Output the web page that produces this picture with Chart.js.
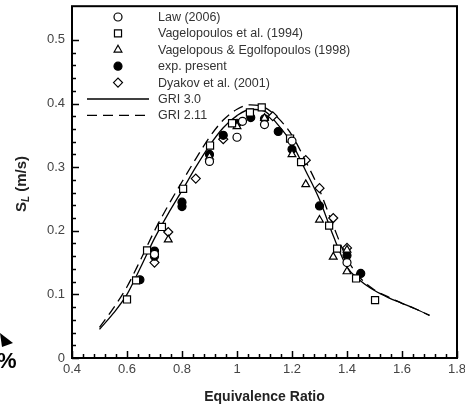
<!DOCTYPE html>
<html>
<head>
<meta charset="utf-8">
<script src="https://cdn.jsdelivr.net/npm/chart.js@4.4.0/dist/chart.umd.min.js"></script>
<style>
  html, body { margin: 0; padding: 0; background: #fff; }
  #wrap { width: 465px; height: 414px; }
</style>
</head>
<body>
<div id="wrap"><canvas id="grafico" width="465" height="414"></canvas></div>
<script>
// tick labels
const xTicks = [0.4, 0.6, 0.8, 1, 1.2, 1.4, 1.6, 1.8];
const yTicks = [0, 0.1, 0.2, 0.3, 0.4, 0.5];

// Law (2006)
const lawX = [0.70, 0.90, 1.00, 1.02, 1.10, 1.20, 1.40];
const lawY = [0.163, 0.309, 0.347, 0.372, 0.367, 0.341, 0.150];

// Vagelopoulos et al. (1994)
const vag94X = [0.60, 0.633, 0.673, 0.727, 0.804, 0.902, 0.982, 1.047, 1.09, 1.193, 1.233, 1.335, 1.364, 1.433, 1.502];
const vag94Y = [0.092, 0.122, 0.169, 0.206, 0.266, 0.334, 0.369, 0.386, 0.394, 0.345, 0.308, 0.208, 0.172, 0.125, 0.091];

// Vagelopous & Egolfopoulos (1998)
const vag98X = [0.75, 0.90, 1.00, 1.10, 1.20, 1.25, 1.30, 1.35, 1.40, 1.40];
const vag98Y = [0.186, 0.316, 0.364, 0.377, 0.320, 0.273, 0.217, 0.159, 0.170, 0.136];

// exp. present
const expX = [0.647, 0.70, 0.70, 0.80, 0.80, 0.90, 0.95, 1.00, 1.05, 1.10, 1.15, 1.20, 1.30, 1.40, 1.45];
const expY = [0.123, 0.168, 0.160, 0.245, 0.238, 0.320, 0.350, 0.369, 0.378, 0.376, 0.356, 0.328, 0.239, 0.161, 0.133];

// Dyakov et al. (2001)
const dyaX = [0.70, 0.75, 0.85, 0.95, 1.13, 1.25, 1.30, 1.35, 1.40];
const dyaY = [0.150, 0.198, 0.282, 0.344, 0.380, 0.311, 0.267, 0.220, 0.173];

// GRI 3.0 and GRI 2.11 curves
const phiCurve = [0.5, 0.55, 0.6, 0.65, 0.7, 0.75, 0.8, 0.85, 0.9, 0.95, 1.0, 1.05, 1.1, 1.15, 1.2, 1.25, 1.3, 1.35, 1.4, 1.45, 1.5, 1.55, 1.6, 1.65, 1.7];
const gri30 = [0.045, 0.070, 0.100, 0.143, 0.188, 0.227, 0.263, 0.300, 0.334, 0.362, 0.381, 0.391, 0.388, 0.366, 0.337, 0.294, 0.249, 0.192, 0.143, 0.121, 0.106, 0.095, 0.086, 0.077, 0.067];
const gri211 = [0.048, 0.078, 0.112, 0.155, 0.200, 0.240, 0.277, 0.313, 0.347, 0.374, 0.391, 0.398, 0.394, 0.377, 0.350, 0.309, 0.264, 0.208, 0.156, 0.125, 0.107, 0.096, 0.086, 0.077, 0.067];

const pts = (xs, ys) => xs.map((x, i) => ({ x: x, y: ys[i] }));

function marker(label, xs, ys, style, radius, fill) {
  return {
    label: label,
    data: pts(xs, ys),
    showLine: false,
    pointStyle: style,
    pointRadius: radius,
    pointBackgroundColor: fill,
    pointBorderColor: "#000",
    pointBorderWidth: 1.2
  };
}

function curve(label, ys, dash) {
  return {
    label: label,
    data: pts(phiCurve, ys),
    showLine: true,
    pointRadius: 0,
    borderColor: "#000",
    borderWidth: 1.3,
    borderDash: dash,
    cubicInterpolationMode: "monotone",
    fill: false
  };
}

const datasets = [
  marker("Law (2006)", lawX, lawY, "circle", 4, "#fff"),
  marker("Vagelopoulos et al. (1994)", vag94X, vag94Y, "rect", 5, "#fff"),
  marker("Vagelopous & Egolfopoulos (1998)", vag98X, vag98Y, "triangle", 4.5, "#fff"),
  marker("exp. present", expX, expY, "circle", 4, "#000"),
  marker("Dyakov et al. (2001)", dyaX, dyaY, "rectRot", 4.5, "#fff"),
  curve("GRI 3.0", gri30, []),
  curve("GRI 2.11", gri211, [10, 6])
];

// frame, inward ticks, legend, y title, stray marks at left
const extras = {
  id: "extras",
  afterDraw(chart) {
    const ctx = chart.ctx;
    const a = chart.chartArea;
    const sx = chart.scales.x, sy = chart.scales.y;
    ctx.save();
    ctx.strokeStyle = "#000";

    // ticks
    ctx.lineWidth = 1.5;
    for (let v = 0; v <= 0.5001; v += 0.02) {
      const y = Math.round(sy.getPixelForValue(v)) + 0.5;
      const major = Math.abs(v * 10 - Math.round(v * 10)) < 1e-6;
      ctx.beginPath();
      ctx.moveTo(a.left, y);
      ctx.lineTo(a.left + (major ? 7 : 4), y);
      ctx.stroke();
    }
    for (let v = 0.4; v <= 1.8001; v += 0.04) {
      const x = Math.round(sx.getPixelForValue(v)) + 0.5;
      const major = Math.abs(v * 5 - Math.round(v * 5)) < 1e-6;
      ctx.beginPath();
      ctx.moveTo(x, a.bottom);
      ctx.lineTo(x, a.bottom - (major ? 7 : 4));
      ctx.stroke();
    }

    // frame
    ctx.lineWidth = 2;
    ctx.strokeRect(a.left, a.top, a.right - a.left, a.bottom - a.top);

    // legend
    const mx = 118, tx = 158, y0 = 17, dy = 16.4;
    ctx.font = "12.5px 'Liberation Sans', Arial, sans-serif";
    ctx.textBaseline = "middle";
    ctx.textAlign = "left";
    chart.data.datasets.forEach((ds, i) => {
      const y = y0 + i * dy;
      if (ds.showLine) {
        ctx.lineWidth = 1.3;
        ctx.setLineDash(ds.borderDash);
        ctx.beginPath();
        ctx.moveTo(87, y);
        ctx.lineTo(149, y);
        ctx.stroke();
        ctx.setLineDash([]);
      } else {
        ctx.fillStyle = ds.pointBackgroundColor;
        ctx.lineWidth = 1.2;
        Chart.helpers.drawPoint(ctx, {
          pointStyle: ds.pointStyle, radius: ds.pointRadius, rotation: 0, borderWidth: 1.2
        }, mx, y);
      }
      ctx.fillStyle = "#333";
      ctx.fillText(ds.label, tx, y + 0.5);
    });

    // y axis title: S_L (m/s)
    ctx.translate(22, 184);
    ctx.rotate(-Math.PI / 2);
    const fBig = "bold 15px 'Liberation Sans', Arial, sans-serif";
    const fSub = "italic bold 10px 'Liberation Sans', Arial, sans-serif";
    ctx.font = fBig;
    const wS = ctx.measureText("S").width;
    const wRest = ctx.measureText(" (m/s)").width;
    ctx.font = fSub;
    const wL = ctx.measureText("L").width;
    let x = -(wS + wL + wRest) / 2;
    ctx.fillStyle = "#222";
    ctx.textBaseline = "middle";
    ctx.font = fBig;
    ctx.fillText("S", x, 0);
    x += wS;
    ctx.font = fSub;
    ctx.fillText("L", x, 4);
    x += wL;
    ctx.font = fBig;
    ctx.fillText(" (m/s)", x, 0);
    ctx.restore();

    // cropped marks at the far left
    ctx.save();
    ctx.fillStyle = "#000";
    ctx.font = "bold 22px 'Liberation Sans', Arial, sans-serif";
    ctx.textBaseline = "middle";
    ctx.textAlign = "left";
    ctx.fillText("%", -3, 362);
    ctx.beginPath();
    ctx.moveTo(0, 333);
    ctx.lineTo(13, 343);
    ctx.lineTo(2, 347);
    ctx.closePath();
    ctx.fill();
    ctx.restore();
  }
};

new Chart(document.getElementById("grafico"), {
  type: "scatter",
  data: { datasets: datasets },
  options: {
    responsive: false,
    devicePixelRatio: 1,
    animation: false,
    layout: { padding: { left: 0, right: 8, top: 4, bottom: 0 } },
    plugins: { legend: { display: false }, tooltip: { enabled: false } },
    scales: {
      x: {
        type: "linear",
        min: 0.4,
        max: 1.8,
        grid: { display: false, drawTicks: false },
        border: { display: false },
        afterBuildTicks: (s) => { s.ticks = xTicks.map(v => ({ value: v })); },
        afterFit: (s) => { s.height = 56; s.paddingLeft = 0; s.paddingRight = 0; },
        ticks: {
          color: "#444",
          padding: 4,
          maxRotation: 0,
          font: { size: 13, family: "'Liberation Sans', Arial, sans-serif" },
          callback: (v) => String(v)
        },
        title: {
          display: true,
          text: "Equivalence Ratio",
          color: "#222",
          font: { size: 14, weight: "bold", family: "'Liberation Sans', Arial, sans-serif" },
          padding: { top: 4, bottom: 8 }
        }
      },
      y: {
        type: "linear",
        min: 0,
        max: 0.553,
        grid: { display: false, drawTicks: false },
        border: { display: false },
        afterBuildTicks: (s) => { s.ticks = yTicks.map(v => ({ value: v })); },
        afterFit: (s) => { s.width = 72; s.paddingTop = 0; s.paddingBottom = 0; },
        ticks: {
          color: "#444",
          padding: 7,
          font: { size: 13, family: "'Liberation Sans', Arial, sans-serif" },
          callback: (v) => String(v)
        }
      }
    }
  },
  plugins: [extras]
});
</script>
</body>
</html>
